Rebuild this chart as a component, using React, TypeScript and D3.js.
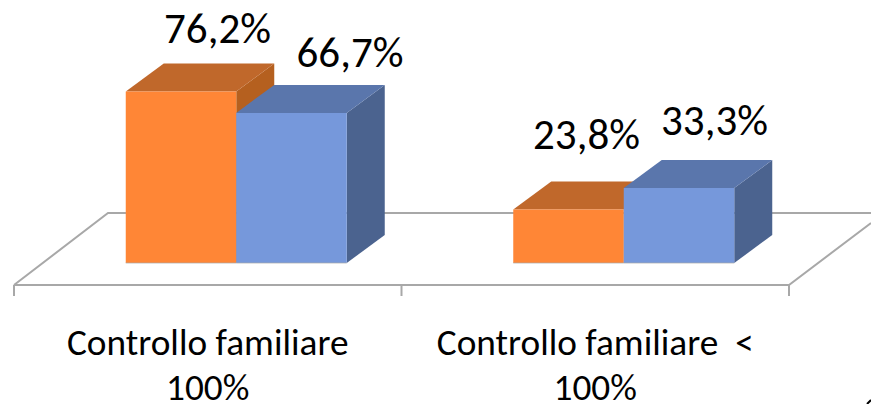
import React from "react";
import * as d3 from "d3";

const categories = ["Controllo familiare 100%", "Controllo familiare < 100%"];
const categoryLines = [["Controllo familiare", "100%"], ["Controllo familiare  <", "100%"]];
const seriesOrange = [76.2, 23.8];
const seriesBlue = [66.7, 33.3];
const orangeLabels = ["76,2%", "23,8%"];
const blueLabels = ["66,7%", "33,3%"];

// Hand-placed data label offsets, from the centre of the bar's front face and its top.
const orangeLabelShift = [[36.5, -48.5], [18, -60]];
const blueLabelShift = [[58.5, -46], [35.5, -53]];

const W = 871, H = 404;
const FRONT = "#FF8636", TOP_O = "#C0682B", SIDE_O = "#B5601F";
const BLUE = "#7698DB", TOP_B = "#5A76AC", SIDE_B = "#4B638F";
const GRID = "#A8A8A8";
const DX = 38, DY = -28;
const BAR_SHIFT = 28.5;
const FONT = "Carlito, Lato, 'Open Sans', sans-serif";

const x = d3.scaleBand<string>().domain(categories).range([14, 789]);
const y = d3.scaleLinear().domain([0, 100]).range([263, 38]);
const BW = 110.5;
const line = d3.line<[number, number]>();
const closed = (p: [number, number][]) => line(p)! + "Z";

function Bar({ x0, v, front, top, side }: { x0: number; v: number; front: string; top: string; side: string }) {
  const x1 = x0 + BW, yt = y(v), yb = y(0);
  return (
    <g>
      <path d={closed([[x1, yb], [x1 + DX, yb + DY], [x1 + DX, yt + DY], [x1, yt]])} fill={side} />
      <path d={closed([[x0, yt], [x1, yt], [x1 + DX, yt + DY], [x0 + DX, yt + DY]])} fill={top} />
      <path d={closed([[x0, yt], [x1, yt], [x1, yb], [x0, yb]])} fill={front} />
      <path d={line([[x0, yb], [x1, yb]])!} stroke={GRID} strokeWidth={1} opacity={0.7} fill="none" />
    </g>
  );
}

export default function App() {
  const labelStyle = { fontFamily: FONT, fill: "#000" };
  return (
    <svg width={W} height={H} style={{ position: "absolute", left: 0, top: 0, background: "#fff" }}>
      <g stroke={GRID} strokeWidth={2} fill="none">
        <path d={line([[14, 285], [108, 213], [871, 213]])!} />
        <path d={line([[14, 285], [789, 285], [871, 223]])!} />
        {[14, 401.5, 789].map((t) => (
          <path key={t} d={line([[t, 285], [t, 296]])!} />
        ))}
      </g>
      {categories.map((c, i) => {
        const c0 = x(c)! + x.bandwidth() / 2 + BAR_SHIFT;
        return (
          <g key={c}>
            <Bar x0={c0 - BW} v={seriesOrange[i]} front={FRONT} top={TOP_O} side={SIDE_O} />
            <Bar x0={c0} v={seriesBlue[i]} front={BLUE} top={TOP_B} side={SIDE_B} />
          </g>
        );
      })}
      {categories.map((c, i) => {
        const c0 = x(c)! + x.bandwidth() / 2 + BAR_SHIFT;
        return (
          <g key={c} fontSize={43} textAnchor="middle" style={labelStyle}>
            <text x={c0 - BW / 2 + orangeLabelShift[i][0]} y={y(seriesOrange[i]) + orangeLabelShift[i][1]}>{orangeLabels[i]}</text>
            <text x={c0 + BW / 2 + blueLabelShift[i][0]} y={y(seriesBlue[i]) + blueLabelShift[i][1]}>{blueLabels[i]}</text>
          </g>
        );
      })}
      {categories.map((c, i) => {
        const c0 = x(c)! + x.bandwidth() / 2;
        return (
          <text key={c} fontSize={37.3} textAnchor="middle" style={{ ...labelStyle, whiteSpace: "pre" }}>
            <tspan x={c0} y={355}>{categoryLines[i][0]}</tspan>
            <tspan x={c0} y={400}>{categoryLines[i][1]}</tspan>
          </text>
        );
      })}
      <path d={line([[867, 404], [871, 400]])!} stroke="#000" strokeWidth={2} fill="none" />
    </svg>
  );
}
